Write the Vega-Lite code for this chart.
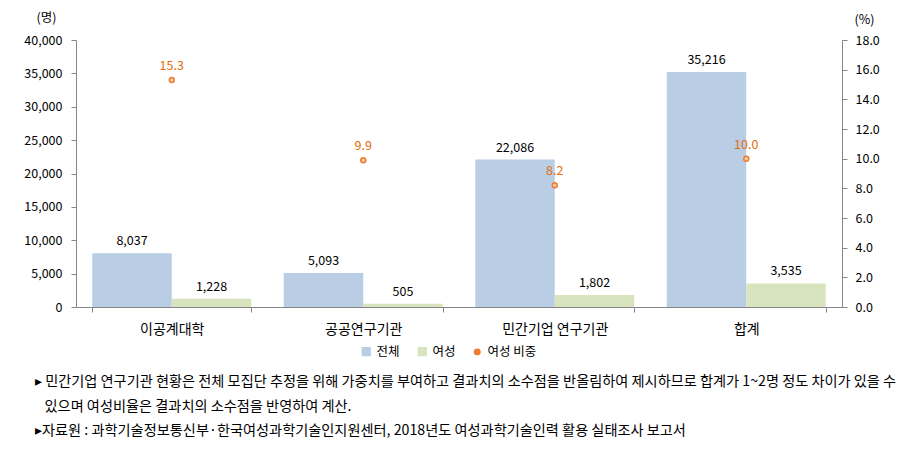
{
  "$schema": "https://vega.github.io/schema/vega-lite/v6.json",
  "width": 766,
  "height": 267,
  "autosize": {"type": "none"},
  "padding": {"left": 76, "top": 40, "right": 74, "bottom": 144},
  "background": "white",
  "config": {
    "font": "Noto Sans CJK KR",
    "view": {"stroke": null},
    "axis": {"grid": false, "domainColor": "#868686", "tickColor": "#868686", "labelColor": "#000000", "labelFontSize": 12.5, "titleFontWeight": "normal", "titleColor": "#000000", "titleFontSize": 12.5}
  },
  "datasets": {
    "counts": [
      {"category": "이공계대학", "series": "전체", "value": 8037},
      {"category": "이공계대학", "series": "여성", "value": 1228},
      {"category": "공공연구기관", "series": "전체", "value": 5093},
      {"category": "공공연구기관", "series": "여성", "value": 505},
      {"category": "민간기업 연구기관", "series": "전체", "value": 22086},
      {"category": "민간기업 연구기관", "series": "여성", "value": 1802},
      {"category": "합계", "series": "전체", "value": 35216},
      {"category": "합계", "series": "여성", "value": 3535}
    ],
    "share": [
      {"category": "이공계대학", "share": 15.3},
      {"category": "공공연구기관", "share": 9.9},
      {"category": "민간기업 연구기관", "share": 8.2},
      {"category": "합계", "share": 10.0}
    ]
  },
  "title": {
    "text": [
      "▸ 민간기업 연구기관 현황은 전체 모집단 추정을 위해 가중치를 부여하고 결과치의 소수점을 반올림하여 제시하므로 합계가 1~2명 정도 차이가 있을 수",
      "\u200b\u00a0\u00a0\u00a0있으며 여성비율은 결과치의 소수점을 반영하여 계산.",
      "▸자료원 : 과학기술정보통신부·한국여성과학기술인지원센터, 2018년도 여성과학기술인력 활용 실태조사 보고서"
    ],
    "orient": "bottom",
    "anchor": "start",
    "frame": "group",
    "dx": -41,
    "offset": 16,
    "fontSize": 14.2,
    "fontWeight": "normal",
    "lineHeight": 24.5,
    "color": "#000000"
  },
  "layer": [
    {
      "data": {"name": "counts"},
      "encoding": {
        "x": {"field": "category", "type": "nominal", "sort": null,
          "scale": {"paddingInner": 0.17, "paddingOuter": 0.085},
          "axis": {"title": null, "labelAngle": 0, "tickBand": "extent", "labelFontSize": 14, "labelPadding": 10, "tickSize": 5}},
        "xOffset": {"field": "series", "type": "nominal", "sort": ["전체", "여성"], "scale": {"paddingInner": 0, "paddingOuter": 0}},
        "y": {"field": "value", "type": "quantitative",
          "scale": {"domain": [0, 40000]},
          "axis": {"title": "(명)", "titleAngle": 0, "titleX": -30, "titleY": -23, "titleAlign": "center", "titleBaseline": "middle",
            "values": [0, 5000, 10000, 15000, 20000, 25000, 30000, 35000, 40000], "format": ",d", "tickSize": 5, "labelPadding": 9}}
      },
      "layer": [
        {
          "mark": {"type": "bar"},
          "encoding": {
            "color": {"field": "series", "type": "nominal",
              "scale": {"domain": ["전체", "여성", "여성 비중"], "range": ["#B9CDE5", "#D7E4BD", "#ED7D31"]},
              "legend": {"orient": "none", "direction": "horizontal", "legendX": 284, "legendY": 305, "title": null,
                "labelFontSize": 12.5, "labelColor": "#000000", "symbolSize": 60, "labelOffset": 4, "columnPadding": 15,
                "encode": {"symbols": {"update": {
                  "shape": {"signal": "datum.value === '여성 비중' ? 'circle' : 'square'"},
                  "size": {"signal": "datum.value === '여성 비중' ? 30 : 60"},
                  "fill": {"signal": "datum.value === '여성 비중' ? '#F8CBAD' : (datum.value === '전체' ? '#B9CDE5' : '#D7E4BD')"},
                  "stroke": {"signal": "datum.value === '여성 비중' ? '#ED7D31' : null"},
                  "strokeWidth": {"value": 1.5},
                  "opacity": {"value": 1}
                }}}}
            }
          }
        },
        {
          "mark": {"type": "text", "baseline": "bottom", "dy": -5, "fontSize": 12.5, "color": "#000000"},
          "encoding": {"text": {"field": "value", "type": "quantitative", "format": ","}}
        }
      ]
    },
    {
      "data": {"name": "share"},
      "encoding": {
        "x": {"field": "category", "type": "nominal", "sort": null},
        "y": {"field": "share", "type": "quantitative",
          "scale": {"domain": [0, 18]},
          "axis": {"orient": "right", "title": "(%)", "titleAngle": 0, "titleX": 22, "titleY": -21, "titleAlign": "center", "titleBaseline": "middle",
            "values": [0, 2, 4, 6, 8, 10, 12, 14, 16, 18], "format": ".1f", "tickSize": 5, "labelPadding": 8}}
      },
      "layer": [
        {
          "mark": {"type": "point", "filled": false, "fill": "#F8CBAD", "fillOpacity": 1, "stroke": "#ED7D31", "strokeWidth": 1.5, "size": 25, "opacity": 1},
          "encoding": {"color": {"datum": "여성 비중"}}
        },
        {
          "mark": {"type": "text", "baseline": "bottom", "dy": -7, "fontSize": 12.5, "color": "#E46C0A"},
          "encoding": {"text": {"field": "share", "type": "quantitative", "format": ".1f"}}
        }
      ]
    }
  ],
  "resolve": {"scale": {"y": "independent"}}
}
